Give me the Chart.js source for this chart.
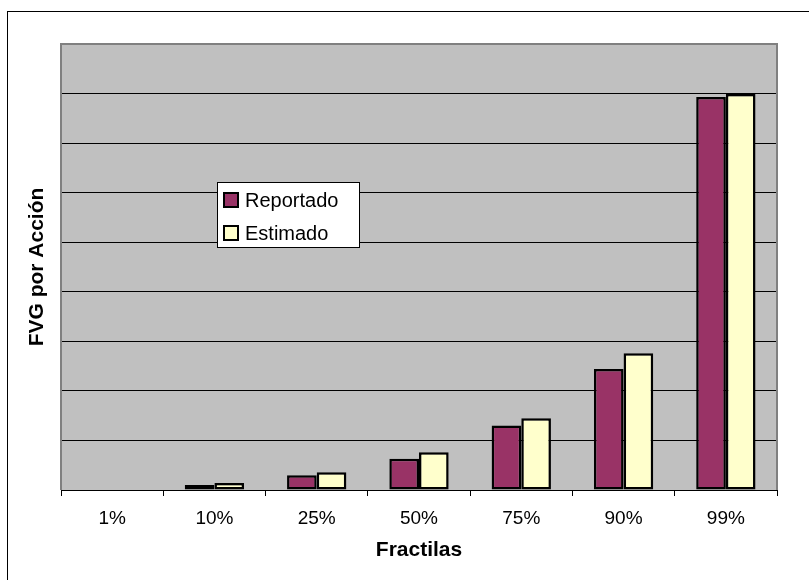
<!DOCTYPE html>
<html lang="es">
<head>
    <meta charset="UTF-8">
    <title>FVG por Acción - Fractilas</title>
    <script src="https://cdn.jsdelivr.net/npm/chart.js"></script>
    <style>
        body {
            margin: 0;
            background: #fff;
            font-family: "Liberation Sans", Arial, sans-serif;
        }
        #wrap {
            width: 809px;
            height: 580px;
        }
    </style>
</head>
<body>
    <div id="wrap">
        <canvas id="fvgChart" width="809" height="580"></canvas>
    </div>

    <script>
        // Data (units = grid steps, axis has no labels)
        const fractiles = ['1%', '10%', '25%', '50%', '75%', '90%', '99%'];
        const reportado = [0, 0.10, 0.30, 0.63, 1.30, 2.44, 7.93];
        const estimado = [0, 0.14, 0.36, 0.76, 1.45, 2.76, 7.99];
        const yMax = 9;

        const FONT = '"Liberation Sans", Arial, sans-serif';

        // Gray plot background + frame, outer chart border
        const plotFrame = {
            id: 'plotFrame',
            beforeDraw(chart) {
                const { ctx, chartArea: a } = chart;
                ctx.save();
                ctx.fillStyle = '#fff';
                ctx.fillRect(0, 0, chart.width, chart.height);
                ctx.strokeStyle = '#000';
                ctx.lineWidth = 1;
                ctx.strokeRect(7.5, 11.5, chart.width + 20, chart.height + 20);
                ctx.fillStyle = '#c0c0c0';
                ctx.fillRect(a.left, a.top, a.right - a.left, a.bottom - a.top);
                ctx.restore();
            },
            beforeDatasetsDraw(chart) {
                const { ctx, chartArea: a } = chart;
                ctx.save();
                ctx.strokeStyle = '#808080';
                ctx.lineWidth = 2;
                ctx.beginPath();
                ctx.moveTo(a.left, a.bottom);
                ctx.lineTo(a.left, a.top);
                ctx.lineTo(a.right, a.top);
                ctx.lineTo(a.right, a.bottom);
                ctx.stroke();
                ctx.restore();
            }
        };

        // Legend box sitting inside the plot area
        const boxLegend = {
            id: 'boxLegend',
            afterDraw(chart) {
                const { ctx } = chart;
                const x = 217, y = 182, w = 142, h = 65;
                ctx.save();
                ctx.fillStyle = '#fff';
                ctx.fillRect(x, y, w, h);
                ctx.strokeStyle = '#000';
                ctx.lineWidth = 1;
                ctx.strokeRect(x + 0.5, y + 0.5, w, h);
                ctx.font = '20px ' + FONT;
                ctx.textBaseline = 'middle';
                chart.data.datasets.forEach((ds, i) => {
                    const cy = y + 18 + i * 33;
                    ctx.fillStyle = ds.backgroundColor;
                    ctx.fillRect(x + 7, cy - 7, 14, 14);
                    ctx.strokeStyle = '#000';
                    ctx.lineWidth = 2;
                    ctx.strokeRect(x + 7, cy - 7, 14, 14);
                    ctx.fillStyle = '#000';
                    ctx.fillText(ds.label, x + 28, cy + 1);
                });
                ctx.restore();
            }
        };

        const ctx = document.getElementById('fvgChart').getContext('2d');
        new Chart(ctx, {
            type: 'bar',
            data: {
                labels: fractiles,
                datasets: [
                    {
                        label: 'Reportado',
                        data: reportado,
                        backgroundColor: '#993366',
                        borderColor: '#000',
                        borderWidth: 2.5,
                        borderSkipped: false
                    },
                    {
                        label: 'Estimado',
                        data: estimado,
                        backgroundColor: '#ffffcc',
                        borderColor: '#000',
                        borderWidth: 2.5,
                        borderSkipped: false
                    }
                ]
            },
            options: {
                responsive: false,
                animation: false,
                events: [],
                layout: {
                    padding: { top: 44, right: 32, left: 0, bottom: 0 }
                },
                datasets: {
                    bar: { categoryPercentage: 0.58, barPercentage: 1.0 }
                },
                plugins: {
                    legend: { display: false },
                    tooltip: { enabled: false }
                },
                scales: {
                    x: {
                        afterFit(scale) { scale.height = 90; },
                        grid: {
                            drawOnChartArea: false,
                            drawTicks: true,
                            tickLength: 6,
                            tickColor: '#000'
                        },
                        border: { display: true, color: '#000', width: 1 },
                        ticks: {
                            color: '#000',
                            padding: 11,
                            font: { family: FONT, size: 19 }
                        },
                        title: {
                            display: true,
                            text: 'Fractilas',
                            color: '#000',
                            padding: { top: 0, bottom: 17 },
                            font: { family: FONT, size: 21, weight: 'bold' }
                        }
                    },
                    y: {
                        min: 0,
                        max: yMax,
                        afterFit(scale) { scale.width = 61; },
                        ticks: { display: false, stepSize: 1 },
                        grid: {
                            color: '#000',
                            lineWidth: 1,
                            drawTicks: false
                        },
                        border: { display: false },
                        title: {
                            display: true,
                            text: 'FVG por Acción',
                            color: '#000',
                            padding: { top: 25, bottom: 0 },
                            font: { family: FONT, size: 21, weight: 'bold' }
                        }
                    }
                }
            },
            plugins: [plotFrame, boxLegend]
        });
    </script>
</body>
</html>
